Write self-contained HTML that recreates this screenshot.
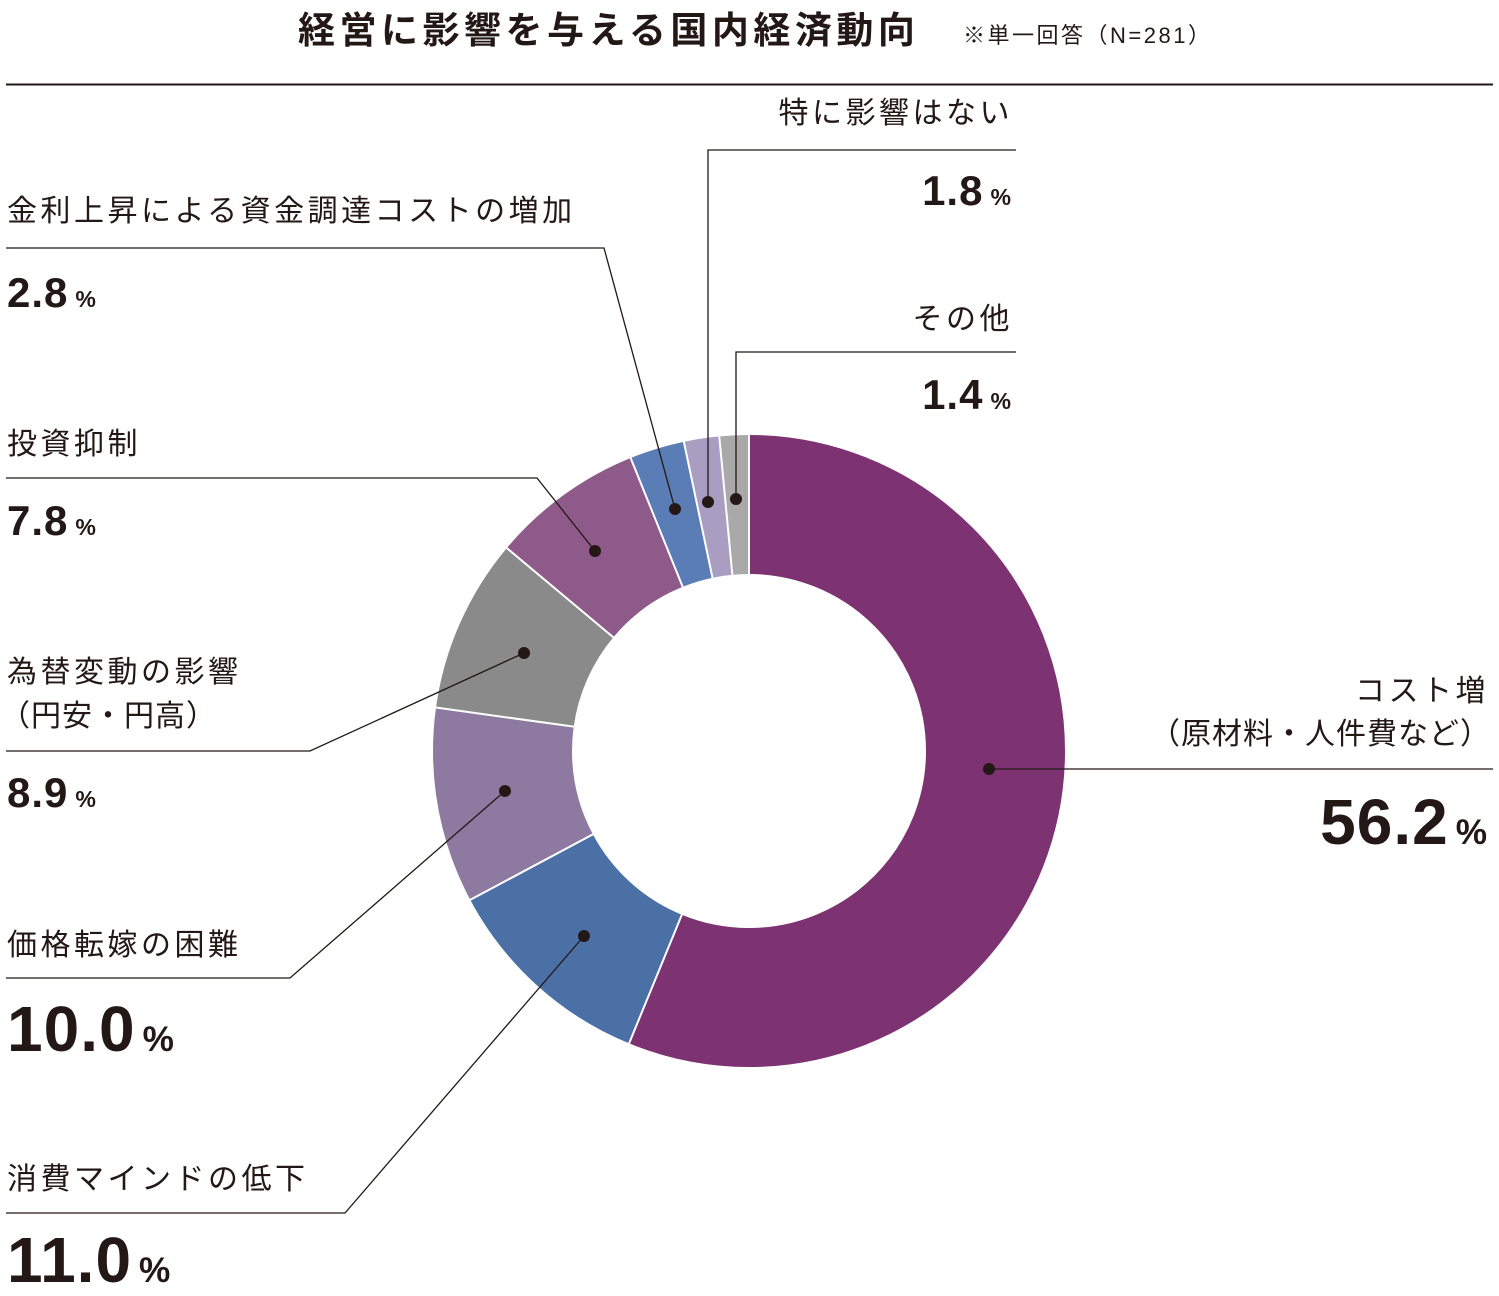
<!DOCTYPE html>
<html><head><meta charset="utf-8"><style>
body{margin:0;width:1499px;height:1293px;background:#fff;position:relative;overflow:hidden;font-family:"Liberation Sans","Noto Sans CJK JP",sans-serif;color:#231815}
.t{position:absolute;white-space:nowrap;line-height:1}
.l{font-size:30px;letter-spacing:3.5px}
.n{font-weight:bold;letter-spacing:1px}
.n small{font-size:0.55em;margin-left:7px;letter-spacing:0}
.r{text-align:right}
</style></head><body>
<div class="t" style="left:298px;top:12px;font-size:37px;font-weight:bold;letter-spacing:4.5px">経営に影響を与える国内経済動向</div>
<div class="t" style="left:963px;top:25px;font-size:22px;letter-spacing:2.5px">※単一回答（N=281）</div>
<svg width="1499" height="1293" style="position:absolute;left:0;top:0">
<line x1="6" y1="84.5" x2="1493" y2="84.5" stroke="#231815" stroke-width="2"/>
<g transform="rotate(-90 749 751)" fill="none" stroke-width="139">
<circle cx="749" cy="751" r="246.5" stroke="#7d3272" stroke-dasharray="870.4 2000" stroke-dashoffset="0"/>
<circle cx="749" cy="751" r="246.5" stroke="#4a70a6" stroke-dasharray="170.4 2000" stroke-dashoffset="-870.4"/>
<circle cx="749" cy="751" r="246.5" stroke="#8e7aa0" stroke-dasharray="154.9 2000" stroke-dashoffset="-1040.8"/>
<circle cx="749" cy="751" r="246.5" stroke="#8a8a8a" stroke-dasharray="137.8 2000" stroke-dashoffset="-1195.7"/>
<circle cx="749" cy="751" r="246.5" stroke="#8e5a8a" stroke-dasharray="120.8 2000" stroke-dashoffset="-1333.5"/>
<circle cx="749" cy="751" r="246.5" stroke="#5a7db5" stroke-dasharray="43.4 2000" stroke-dashoffset="-1454.3"/>
<circle cx="749" cy="751" r="246.5" stroke="#a99ec2" stroke-dasharray="27.9 2000" stroke-dashoffset="-1497.7"/>
<circle cx="749" cy="751" r="246.5" stroke="#a9a9a9" stroke-dasharray="23.2 2000" stroke-dashoffset="-1525.6"/>
</g>
<g stroke="#fff" stroke-width="2">
<line x1="749" y1="574" x2="749" y2="433" transform="rotate(0 749 751)"/>
<line x1="749" y1="574" x2="749" y2="433" transform="rotate(202.3 749 751)"/>
<line x1="749" y1="574" x2="749" y2="433" transform="rotate(241.9 749 751)"/>
<line x1="749" y1="574" x2="749" y2="433" transform="rotate(277.9 749 751)"/>
<line x1="749" y1="574" x2="749" y2="433" transform="rotate(309.96 749 751)"/>
<line x1="749" y1="574" x2="749" y2="433" transform="rotate(338 749 751)"/>
<line x1="749" y1="574" x2="749" y2="433" transform="rotate(348.1 749 751)"/>
<line x1="749" y1="574" x2="749" y2="433" transform="rotate(354.6 749 751)"/>
</g>
<g stroke="#231815" stroke-width="1.3" fill="none">
<polyline points="1016,150 708,150 708,502"/>
<polyline points="1016,352 736,352 736,499"/>
<polyline points="6,248 604,248 675,509"/>
<polyline points="6,478 537,478 595,551"/>
<polyline points="6,751 310,751 524,653"/>
<polyline points="6,978 290,978 505,791"/>
<polyline points="6,1213 345,1213 584,936"/>
<polyline points="1493,769 989,769"/>
</g>
<g fill="#231815">
<circle cx="708" cy="502" r="6"/><circle cx="736" cy="499" r="6"/><circle cx="675" cy="509" r="6"/>
<circle cx="595" cy="551" r="6"/><circle cx="524" cy="653" r="6"/><circle cx="505" cy="791" r="6"/>
<circle cx="584" cy="936" r="6"/><circle cx="989" cy="769" r="6"/>
</g>
</svg>
<div class="t l r" style="right:486px;top:99px">特に影響はない</div>
<div class="t n r" style="right:488px;top:170px;font-size:42px">1.8<small>%</small></div>
<div class="t l r" style="right:486px;top:305px">その他</div>
<div class="t n r" style="right:488px;top:374px;font-size:42px">1.4<small>%</small></div>
<div class="t l" style="left:7px;top:197px">金利上昇による資金調達コストの増加</div>
<div class="t n" style="left:7px;top:272px;font-size:42px">2.8<small>%</small></div>
<div class="t l" style="left:7px;top:430px">投資抑制</div>
<div class="t n" style="left:7px;top:500px;font-size:42px">7.8<small>%</small></div>
<div class="t l" style="left:7px;top:658px">為替変動の影響</div>
<div class="t l" style="left:0px;top:702px;letter-spacing:1px">（円安・円高）</div>
<div class="t n" style="left:7px;top:772px;font-size:42px">8.9<small>%</small></div>
<div class="t l" style="left:7px;top:931px">価格転嫁の困難</div>
<div class="t n" style="left:7px;top:997px;font-size:64px">10.0<small>%</small></div>
<div class="t l" style="left:7px;top:1165px">消費マインドの低下</div>
<div class="t n" style="left:7px;top:1228px;font-size:64px">11.0<small>%</small></div>
<div class="t l r" style="right:10px;top:677px">コスト増</div>
<div class="t l r" style="right:8px;top:720px;letter-spacing:1px">（原材料・人件費など）</div>
<div class="t n r" style="right:12px;top:790px;font-size:64px">56.2<small>%</small></div>
</body></html>
